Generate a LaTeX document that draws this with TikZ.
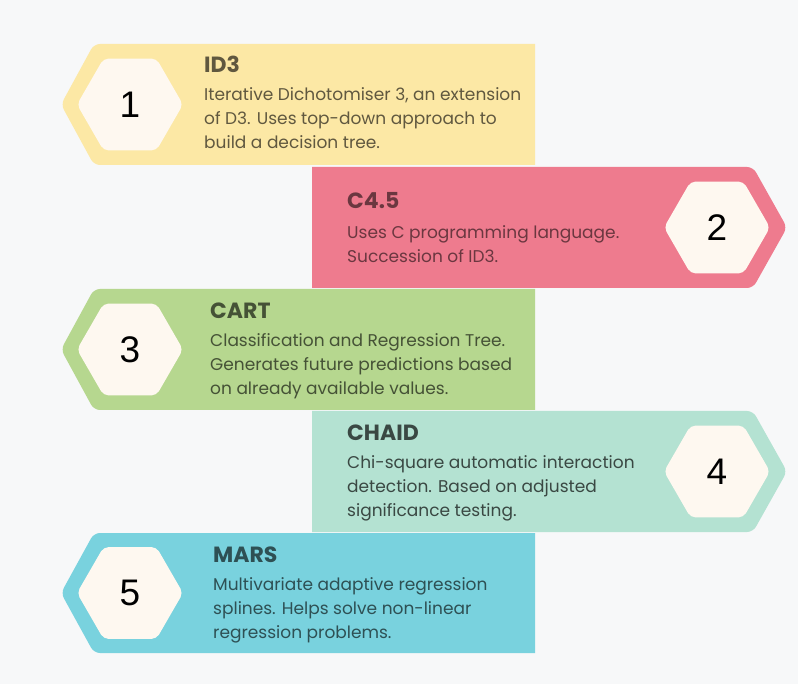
\documentclass[tikz,border=0pt]{standalone}
\usepackage{fontspec}
\setmainfont{Poppins}
\newfontfamily\numfont{Liberation Sans}
\usetikzlibrary{shapes.geometric}
\definecolor{pagebg}{HTML}{F7F8F9}
\definecolor{hexfill}{HTML}{FEF8F0}
\definecolor{yellowband}{HTML}{FCE8A5}
\definecolor{pinkband}{HTML}{EE7B8E}
\definecolor{greenband}{HTML}{B6D78F}
\definecolor{mintband}{HTML}{B4E2D2}
\definecolor{cyanband}{HTML}{79D2DE}
\begin{document}
\begin{tikzpicture}
    [x=1pt, y=-1pt,
     numhex/.style={regular polygon, regular polygon sides=6, fill=hexfill, minimum size=106pt, inner sep=0pt, rounded corners=5pt, font=\numfont\fontsize{37}{37}\selectfont},
     headtext/.style={anchor=base west, inner sep=0pt, font=\fontsize{22}{26}\selectfont\bfseries},
     bodytext/.style={anchor=base west, align=left, inner sep=0pt, font=\fontsize{17}{24}\selectfont}]
    \fill[pagebg] (0,0) rectangle (798,684);
    % Define bands
    \fill[yellowband] (535,165) -- (535,44) [rounded corners=6pt] -- (94,44) -- (61,104.5) -- (94,165) [sharp corners] -- cycle;
    \fill[pinkband] (312,288) -- (312,167) [rounded corners=6pt] -- (753,167) -- (787,227.5) -- (753,288) [sharp corners] -- cycle;
    \fill[greenband] (535,410) -- (535,289) [rounded corners=6pt] -- (94,289) -- (61,349.5) -- (94,410) [sharp corners] -- cycle;
    \fill[mintband] (312,532) -- (312,411) [rounded corners=6pt] -- (753,411) -- (787,471.5) -- (753,532) [sharp corners] -- cycle;
    \fill[cyanband] (535,653) -- (535,533) [rounded corners=6pt] -- (94,533) -- (61,593) -- (94,653) [sharp corners] -- cycle;
    % Define nodes
    \node[numhex] (n1) at (130,104.5) {1};
    \node[numhex] (n2) at (717,227.5) {2};
    \node[numhex] (n3) at (130,349.5) {3};
    \node[numhex] (n4) at (717,471.5) {4};
    \node[numhex] (n5) at (130,593) {5};
    % Define texts (body nodes sit on their last line)
    \node[headtext, text=yellowband!38!black] (h1) at (204,73) {ID3};
    \node[bodytext, text=yellowband!38!black] (b1) at (204,149) {Iterative Dichotomiser 3, an extension\\of D3. Uses top-down approach to\\build a decision tree.};
    \node[headtext, text=pinkband!45!black] (h2) at (347,209) {C4.5};
    \node[bodytext, text=pinkband!45!black] (b2) at (347,263) {Uses C programming language.\\Succession of ID3.};
    \node[headtext, text=greenband!38!black] (h3) at (210,318.5) {CART};
    \node[bodytext, text=greenband!38!black] (b3) at (210,394.5) {Classification and Regression Tree.\\Generates future predictions based\\on already available values.};
    \node[headtext, text=mintband!32!black] (h4) at (347,440.5) {CHAID};
    \node[bodytext, text=mintband!32!black] (b4) at (347,516.5) {Chi-square automatic interaction\\detection. Based on adjusted\\significance testing.};
    \node[headtext, text=cyanband!38!black] (h5) at (213,562) {MARS};
    \node[bodytext, text=cyanband!38!black] (b5) at (213,638) {Multivariate adaptive regression\\splines. Helps solve non-linear\\regression problems.};
\end{tikzpicture}
\end{document}
